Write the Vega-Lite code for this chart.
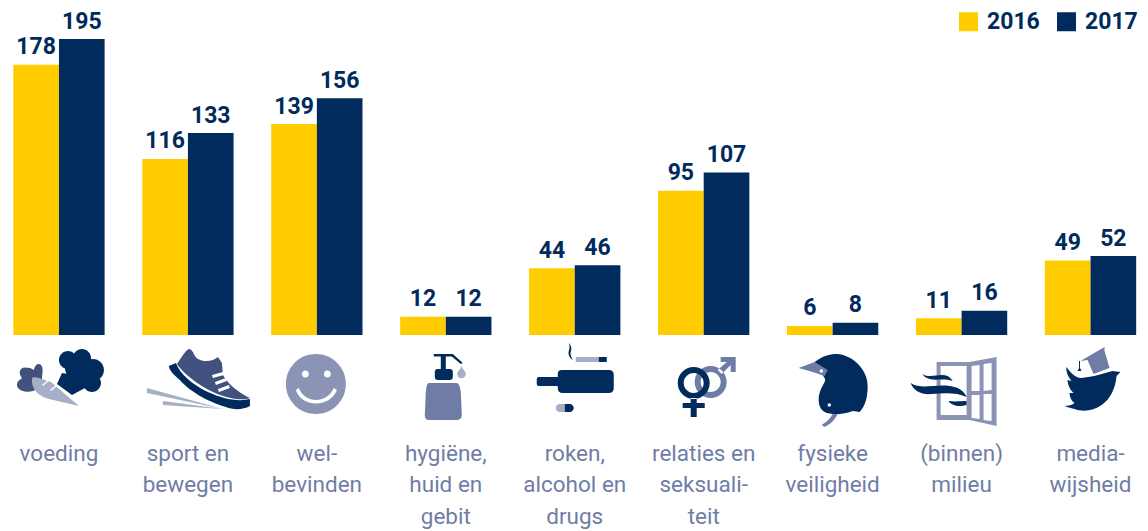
{"$schema":"https://vega.github.io/schema/vega-lite/v6.json","width":1148,"height":335,"autosize":"none","padding":{"left":0,"top":0,"right":0,"bottom":196},"background":"white","config":{"view":{"stroke":null},"font":"Roboto"},
"datasets":{"staven":[
{"categorie":"voeding","jaar":"2016","aantal":178},{"categorie":"voeding","jaar":"2017","aantal":195},
{"categorie":"sport en|bewegen","jaar":"2016","aantal":116},{"categorie":"sport en|bewegen","jaar":"2017","aantal":133},
{"categorie":"wel-|bevinden","jaar":"2016","aantal":139},{"categorie":"wel-|bevinden","jaar":"2017","aantal":156},
{"categorie":"hygiëne,|huid en|gebit","jaar":"2016","aantal":12},{"categorie":"hygiëne,|huid en|gebit","jaar":"2017","aantal":12},
{"categorie":"roken,|alcohol en|drugs","jaar":"2016","aantal":44},{"categorie":"roken,|alcohol en|drugs","jaar":"2017","aantal":46},
{"categorie":"relaties en|seksuali-|teit","jaar":"2016","aantal":95},{"categorie":"relaties en|seksuali-|teit","jaar":"2017","aantal":107},
{"categorie":"fysieke|veiligheid","jaar":"2016","aantal":6},{"categorie":"fysieke|veiligheid","jaar":"2017","aantal":8},
{"categorie":"(binnen)|milieu","jaar":"2016","aantal":11},{"categorie":"(binnen)|milieu","jaar":"2017","aantal":16},
{"categorie":"media-|wijsheid","jaar":"2016","aantal":49},{"categorie":"media-|wijsheid","jaar":"2017","aantal":52}],
"iconen":[
{"categorie":"voeding","deel":"loof","toon":"midden"},
{"categorie":"voeding","deel":"broccoli","toon":"navy"},
{"categorie":"voeding","deel":"wortel","toon":"bleek"},
{"categorie":"voeding","deel":"wortelstreep","toon":"wit"},
{"categorie":"sport en|bewegen","deel":"zool","toon":"navy"},
{"categorie":"sport en|bewegen","deel":"schoen","toon":"midden"},
{"categorie":"sport en|bewegen","deel":"strepen","toon":"wit"},
{"categorie":"sport en|bewegen","deel":"snelheid","toon":"bleek"},
{"categorie":"wel-|bevinden","deel":"gezicht","toon":"licht"},
{"categorie":"wel-|bevinden","deel":"lach","toon":"wit"},
{"categorie":"hygiëne,|huid en|gebit","deel":"fles","toon":"leisteen"},
{"categorie":"hygiëne,|huid en|gebit","deel":"pomp","toon":"navy"},
{"categorie":"hygiëne,|huid en|gebit","deel":"druppel","toon":"bleek"},
{"categorie":"roken,|alcohol en|drugs","deel":"flesalcohol","toon":"navy"},
{"categorie":"roken,|alcohol en|drugs","deel":"sigaret","toon":"bleek"},
{"categorie":"roken,|alcohol en|drugs","deel":"filter","toon":"navy"},
{"categorie":"relaties en|seksuali-|teit","deel":"man","toon":"leisteen"},
{"categorie":"relaties en|seksuali-|teit","deel":"vrouw","toon":"navy"},
{"categorie":"fysieke|veiligheid","deel":"helm","toon":"navy"},
{"categorie":"fysieke|veiligheid","deel":"vizier","toon":"leisteen"},
{"categorie":"fysieke|veiligheid","deel":"stippen","toon":"wit"},
{"categorie":"(binnen)|milieu","deel":"raam","toon":"licht"},
{"categorie":"(binnen)|milieu","deel":"ruiten","toon":"wit"},
{"categorie":"(binnen)|milieu","deel":"wind","toon":"navy"},
{"categorie":"media-|wijsheid","deel":"vogel","toon":"navy"},
{"categorie":"media-|wijsheid","deel":"pet","toon":"leisteen"},
{"categorie":"media-|wijsheid","deel":"kwast","toon":"navy"}]},
"layer":[
{"data":{"name":"staven"},"mark":{"type":"bar"},"encoding":{
"x":{"field":"categorie","type":"nominal","sort":null,"scale":{"range":[-5.5,1155],"paddingInner":0.292,"paddingOuter":0.146},"axis":{"title":null,"domain":false,"ticks":false,"labelAngle":0,"labelPadding":107,"labelFont":"Roboto","labelFontSize":22.5,"labelColor":"#6F7DA6","labelLineHeight":31.5,"labelBaseline":"top","labelExpr":"split(datum.label,'|')","labelOverlap":false,"labelBound":false,"labelFlush":false}},
"xOffset":{"field":"jaar","type":"nominal","scale":{"paddingInner":0,"paddingOuter":0}},
"y":{"field":"aantal","type":"quantitative","scale":{"domain":[0,220.7],"nice":false},"axis":null},
"color":{"field":"jaar","type":"nominal","scale":{"domain":["2016","2017"],"range":["#FFCC00","#002B5C"]},"legend":{"title":null,"orient":"none","legendX":957,"legendY":10,"direction":"horizontal","symbolType":"square","symbolSize":361,"symbolStrokeWidth":0,"symbolOpacity":1,"labelFont":"Roboto","labelFontWeight":"bold","labelFontSize":23,"labelColor":"#002B5C","columnPadding":15,"labelOffset":7,"padding":0}}}},
{"data":{"name":"staven"},"mark":{"type":"text","font":"Roboto","fontWeight":"bold","fontSize":23,"color":"#002B5C","dy":-10.5,"baseline":"alphabetic"},"encoding":{
"x":{"field":"categorie","type":"nominal","sort":null},
"xOffset":{"field":"jaar","type":"nominal"},
"y":{"field":"aantal","type":"quantitative"},
"text":{"field":"aantal","type":"quantitative"}}},
{"data":{"name":"iconen"},"mark":{"type":"point","filled":true,"size":4,"opacity":1,"strokeWidth":0,"yOffset":47},"encoding":{
"x":{"field":"categorie","type":"nominal","sort":null},
"y":{"datum":0,"type":"quantitative"},
"color":{"field":"toon","type":"nominal","legend":null,"scale":{"domain":["navy","midden","leisteen","licht","bleek","wit"],"range":["#002B5C","#41527F","#6F7DA6","#8C94B6","#A6AEC8","#FFFFFF"]}},
"shape":{"field":"deel","type":"nominal","legend":null,"scale":{"domain":["loof","broccoli","wortel","wortelstreep","zool","schoen","strepen","snelheid","gezicht","lach","fles","pomp","druppel","flesalcohol","sigaret","filter","man","vrouw","helm","vizier","stippen","raam","ruiten","wind","vogel","pet","kwast"],"range":[
"M-26,9 C-32,11 -42,9 -42,3 C-42,-1 -39,-2 -37,-4 C-42,-10 -38,-16 -32,-14 C-29,-15 -26,-12 -25,-12 C-24,-18 -20,-19 -18,-17 C-15,-14 -17,-8 -17,-3 L-20,6Z",
"M0,-22 a9,9 0 1,0 18,0 a9,9 0 1,0 -18,0Z M14,-24 a9,9 0 1,0 18,0 a9,9 0 1,0 -18,0Z M23,-12 a11,11 0 1,0 22,0 a11,11 0 1,0 -22,0Z M24,1 a9,9 0 1,0 18,0 a9,9 0 1,0 -18,0Z M6,-14 a11,11 0 1,0 22,0 a11,11 0 1,0 -22,0Z M10,-8 a12,12 0 1,0 24,0 a12,12 0 1,0 -24,0Z M-2,2 L13,13 L26,6 L28,0 L20,-10 L12,-2 L9,-8 L3,-9Z",
"M-27,-4 C-24,-6 -18,-3 -8,0 L20,24 L-10,17 C-20,14 -28,8 -27,-4Z",
"M-17,3 L-11,-2 L-10,-1 L-16,4Z M-9,8 L-3,3 L-2,4 L-8,9Z",
"M-19,-16 L-12,-19 C-8,-8 5,3 20,10 C35,17 50,20 62,17 L62,24 C55,28 45,28 38,25 C20,20 0,8 -8,-2 C-14,-7 -19,-12 -19,-16Z",
"M-11,-18 C-6,-25 -2,-33 2,-33 C6,-31 6,-25 10,-23 C15,-20 25,-20 30,-25 L34,-19 L35,-7 C40,2 50,10 62,16 C55,19 40,17 25,10 C10,3 -5,-9 -11,-18Z",
"M24,-7 L35,-10 L36,-7 L25,-4Z M27,0 L38,-4 L39,-1 L28,3Z M30,7 L41,3 L42,6 L31,10Z",
"M-41,6 L35,27 L-41,11Z M-25,19 L35,27 L-25,23Z",
"M-31,2 a30,30 0 1,0 60,0 a30,30 0 1,0 -60,0Z",
"M-15,-8 a3.5,3.5 0 1,0 7,0 a3.5,3.5 0 1,0 -7,0Z M7,-8 a3.5,3.5 0 1,0 7,0 a3.5,3.5 0 1,0 -7,0Z M-21,8 L-18,6 C-12,22 10,22 17,6 L20,8 C13,26 -15,26 -21,8Z",
"M-16,1 L10,1 C13,1 14,3 15,10 L16,33 C16,36 14,38 10,38 L-16,38 C-20,38 -21,36 -21,33 L-20,10 C-19,3 -19,1 -16,1Z",
"M-12,-28 L7,-28 L17,-19 L15,-18 L6,-25.5 L0,-25.5 L0,-13 L4,-13 Q7,-13 7,-10 L7,-5 Q7,-2 4,-2 L-8,-2 Q-11,-2 -11,-5 L-11,-10 Q-11,-13 -8,-13 L-5,-13 L-5,-25.5 L-12,-25.5Z",
"M15.7,-16 C17,-12 20,-11 20,-8 A4.3,4.3 0 0 1 11.4,-8 C11.4,-11 14.5,-12 15.7,-16Z",
"M-13,-12 L34,-12 Q39,-12 39,-7 L39,6 Q39,11 34,11 L-12,11 Q-17,11 -17,6 L-17,4 L-36,4 Q-38,4 -38,2 L-38,-3 Q-38,-5 -36,-5 L-17,-5 L-17,-8 Q-17,-12 -13,-12Z",
"M1,-25 L24,-25 L24,-20 L1,-20Z M-10,22 L-15,22 A4,4 0 0 0 -15,30 L-10,30Z",
"M24,-25 L32,-25 L32,-20 L24,-20Z M-10,22 L-5,22 A4,4 0 0 1 -5,30 L-10,30Z M-6,-39 C-3,-36 -3,-33 -4,-30 C-5,-27 -3,-25 -2,-22 C-5,-24 -7,-27 -6,-31 C-5,-34 -5,-36 -6,-39Z",
"M-9,0 a16,16 0 1,0 32,0 a16,16 0 1,0 -32,0Z M-3,0 a10,10 0 1,1 20,0 a10,10 0 1,1 -20,0Z M17,-25 L32,-25 L32,-10 L27,-10 L27,-17 L18,-8 L14,-12 L23,-20 L17,-20Z",
"M-26,1 a16,16 0 1,0 32,0 a16,16 0 1,0 -32,0Z M-20,1 a10,10 0 1,1 20,0 a10,10 0 1,1 -20,0Z M-13,16 L-7,16 L-7,21 L1,21 L1,26 L-7,26 L-7,35 L-13,35 L-13,26 L-21,26 L-21,21 L-13,21Z",
"M-18,-20 C-10,-26 -3,-28 4,-28 C22,-27 36,-10 35,5 C35,14 33,24 27,30 L20,29 C10,33 -2,33 -8,30 C-13,27 -14,22 -14,16 C-13,8 -10,4 -8,0 C-6,-3 -10,-8 -13,-8Z",
"M-34,-14 L-18,-20 L-5,-12 L-8,-6 L-20,-10Z M5,32 C3,37 -2,42 -8,45 L-11,43 C-6,40 -2,36 0,32Z",
"M-13,-11 a1.7,1.7 0 1,0 3.4,0 a1.7,1.7 0 1,0 -3.4,0Z M-5,23 a1.7,1.7 0 1,0 3.4,0 a1.7,1.7 0 1,0 -3.4,0Z",
"M-25,-20 L8,-20 L35,-25 L35,44 L8,38 L-25,38Z",
"M-21,-16 L5,-16 L5,33 L-21,33Z M10,-16 L18,-17 L18,9 L10,9Z M22,-18 L30,-19 L30,8 L22,9Z M10,13 L18,13 L18,37 L10,36Z M22,12 L30,12 L30,39 L22,38Z",
"M-39,-8 C-32,-3 -22,-9 -14,-6 C-12,-5 -10,-3 -9,-1 C-18,-4 -26,-1 -32,-3 C-36,-4 -38,-6 -39,-8Z M-51,1 C-40,8 -28,2 -12,4 C-4,5 2,8 5,15 C-5,10 -18,11 -30,12 C-42,13 -48,8 -51,1Z M-13,19 C-6,20 0,19 5,19 L5,23 C-2,25 -10,24 -13,19Z",
"M-24,-15 C-20,-9 -15,-4 -9,-4 L4,-6 L22,-11 L30,-10 L26,-6 C25,6 20,17 11,23 C3,29 -8,30 -16,27 C-20,26 -24,25 -26,24 C-22,24 -18,23 -16,21 C-19,19 -21,15 -21,11 L-17,11 C-20,8 -23,3 -23,-2 L-19,-1 C-22,-5 -25,-10 -24,-15Z",
"M-10,-21 L14,-35 L14,-31 L19,-14 L3,-8 L-3,-22Z",
"M-11.5,-21 L-10.5,-21 L-10.5,-14 L-9,-11 L-13,-11 L-11.5,-14Z"
]}}}}
],
"resolve":{"scale":{"color":"independent"}}}
